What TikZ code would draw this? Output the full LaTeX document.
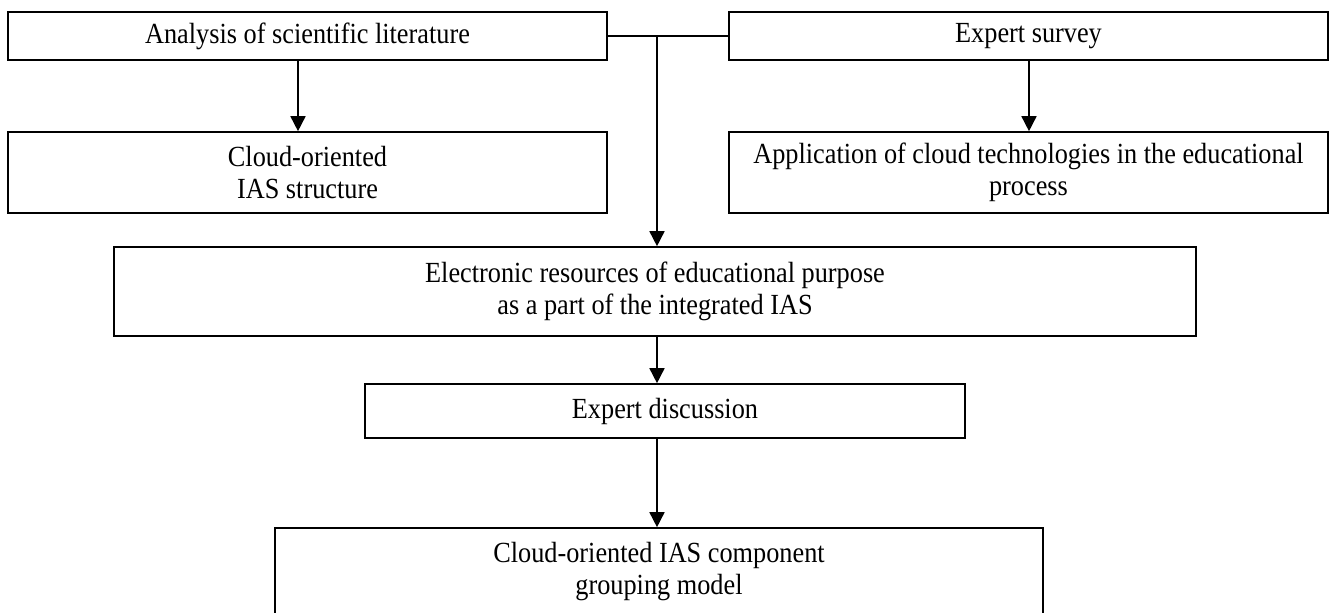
\documentclass[tikz,border=0pt]{standalone}
\usepackage{fontspec}
\setmainfont{Liberation Serif}[FakeStretch=0.9]
\usetikzlibrary{arrows.meta}
\tikzset{
  box/.style={draw, line width=0.8pt, inner sep=0pt, align=center,
    font=\fontsize{14.6}{16}\selectfont},
  arr/.style={line width=0.8pt, -{Triangle[length=7.5pt,width=7.5pt]}},
  conn/.style={line width=0.8pt}
}
\begin{document}
\begin{tikzpicture}[x=0.5pt,y=-0.5pt]
\useasboundingbox (0,0) rectangle (1329,613);
\clip (0,0) rectangle (1329,613);
\node[box, minimum width=299.5pt, minimum height=24pt] (A) at (307.5,36) {Analysis of scientific literature};
\node[box, minimum width=299.5pt, minimum height=24pt] (S) at (1028.5,36) {Expert survey};
\node[box, minimum width=299.5pt, minimum height=40.5pt] (B) at (307.5,172.5) {Cloud-oriented\\IAS structure};
\node[box, minimum width=299.5pt, minimum height=40.5pt] (P) at (1028.5,172.5) {Application of cloud technologies in the educational\\process};
\node[box, minimum width=541pt, minimum height=44.5pt] (E) at (655,291.5) {Electronic resources of educational purpose\\as a part of the integrated IAS};
\node[box, minimum width=300pt, minimum height=27pt] (D) at (665,411) {Expert discussion};
\node[box, minimum width=384pt, minimum height=44pt] (M) at (659,572) {Cloud-oriented IAS component\\grouping model};
\coordinate (ax) at (298,0);
\coordinate (bx) at (1029,0);
\coordinate (j) at (657,36);
\draw[arr] (A.south -| ax) -- (B.north -| ax);
\draw[arr] (S.south -| bx) -- (P.north -| bx);
\draw[conn] (A.east) -- (S.west);
\draw[arr] (j) -- (E.north -| j);
\draw[arr] (E.south -| j) -- (D.north -| j);
\draw[arr] (D.south -| j) -- (M.north -| j);
\end{tikzpicture}
\end{document}
